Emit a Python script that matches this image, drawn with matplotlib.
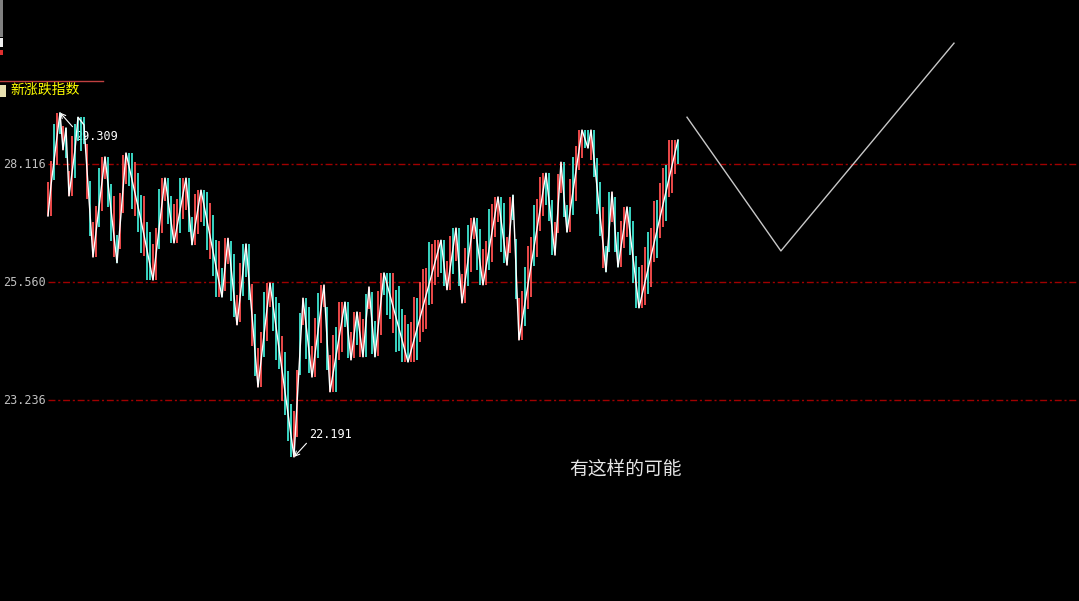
import matplotlib
matplotlib.use('Agg')
from matplotlib import pyplot as plt
from matplotlib.patches import Rectangle
import numpy as np

# Zigzag line of the index (bar number, value)
pivot_idx = [0, 1, 4, 5, 6, 7, 9, 10, 12, 13, 15, 19, 23, 26, 31, 35, 39, 42, 46, 48,
             51, 58, 60, 63, 66, 70, 74, 82, 85, 88, 92, 94, 99, 101, 103, 105, 107, 109, 112, 120,
             131, 133, 136, 138, 142, 145, 150, 153, 155, 157, 166, 169, 171, 173, 178, 180, 181, 186, 188, 190,
             193, 197, 210]
pivot_val = [26.96, 27.64, 29.309, 28.44, 28.95, 27.40, 28.44, 29.20, 29.02, 27.98,
             26.08, 28.28, 25.96, 28.37, 26.87, 25.60, 27.80, 26.38, 27.80, 26.34,
             27.53, 25.25, 26.48, 24.69, 26.36, 23.48, 25.54, 22.191, 25.23, 23.67,
             25.50, 23.39, 25.15, 24.00, 24.95, 24.06, 25.46, 24.06, 25.75, 23.96,
             26.44, 25.40, 26.70, 25.13, 26.92, 25.50, 27.38, 25.91, 27.42, 24.39,
             27.91, 26.12, 28.16, 26.61, 28.90, 28.48, 28.90, 25.77, 27.49, 25.87,
             27.16, 25.03, 28.67]

# Coloured sticks, one per bar (low end, high end)
stick_lo = [26.96, 26.96, 27.75, 28.10, 28.81, 28.44, 28.25, 27.40, 27.40, 27.79,
            28.65, 28.41, 28.57, 27.33, 26.53, 26.08, 26.08, 26.73, 27.08, 27.78,
            27.15, 26.42, 26.09, 25.96, 26.26, 27.02, 27.67, 27.62, 27.12, 26.97,
            26.62, 26.17, 26.10, 25.60, 25.60, 25.60, 25.60, 26.25, 26.60, 27.30,
            26.78, 26.38, 26.38, 26.38, 26.59, 26.90, 27.10, 26.62, 26.34, 26.34,
            26.58, 26.83, 26.75, 26.23, 26.05, 25.68, 25.25, 25.25, 25.25, 25.37,
            25.93, 25.18, 24.84, 24.69, 24.75, 25.27, 25.66, 25.19, 24.27, 23.70,
            23.48, 23.48, 24.06, 24.37, 25.04, 24.57, 24.00, 23.83, 23.21, 22.95,
            22.48, 22.19, 22.19, 22.55, 23.72, 24.68, 24.01, 23.74, 23.67, 23.67,
            24.04, 24.34, 25.05, 23.80, 23.39, 23.39, 23.39, 24.00, 24.15, 24.65,
            24.03, 24.00, 24.03, 24.30, 24.06, 24.06, 24.06, 25.01, 24.11, 24.06,
            24.07, 24.49, 25.30, 24.88, 24.80, 24.53, 24.15, 24.18, 23.96, 23.96,
            23.96, 23.96, 23.96, 23.99, 24.36, 24.54, 24.61, 25.09, 25.11, 25.49,
            25.66, 25.74, 25.47, 25.40, 25.40, 25.72, 26.00, 25.47, 25.13, 25.13,
            25.47, 25.77, 26.47, 25.80, 25.50, 25.50, 25.50, 25.81, 25.98, 26.51,
            26.83, 26.19, 25.95, 25.91, 26.17, 26.87, 25.21, 24.39, 24.39, 24.67,
            25.01, 25.25, 25.90, 26.09, 26.63, 26.97, 27.21, 26.86, 26.12, 26.12,
            26.59, 27.46, 26.94, 26.61, 26.61, 26.98, 27.28, 27.99, 28.25, 28.48,
            28.48, 28.20, 27.82, 27.00, 26.52, 25.85, 25.77, 26.18, 26.84, 26.18,
            25.87, 25.87, 26.28, 26.51, 26.13, 25.55, 25.03, 25.03, 25.03, 25.09,
            25.32, 25.45, 25.98, 26.06, 26.49, 26.72, 26.85, 27.38, 27.46, 27.89, 28.12]
stick_hi = [27.71, 28.19, 29.05, 29.31, 29.31, 28.99, 28.95, 27.95, 28.77, 29.04,
            29.20, 29.20, 29.20, 28.58, 27.73, 26.83, 27.18, 28.03, 28.28, 28.28,
            28.28, 27.67, 27.39, 26.56, 27.46, 28.32, 28.37, 28.37, 28.37, 28.17,
            27.92, 27.42, 27.40, 26.84, 26.62, 26.35, 26.70, 27.55, 27.80, 27.80,
            27.80, 27.40, 27.23, 27.34, 27.79, 27.80, 27.80, 27.80, 26.94, 27.44,
            27.53, 27.53, 27.53, 27.48, 27.25, 26.98, 26.45, 26.43, 25.85, 26.48,
            26.48, 26.43, 26.14, 25.29, 25.95, 26.36, 26.36, 26.36, 25.52, 24.90,
            24.23, 24.54, 25.36, 25.54, 25.54, 25.54, 25.25, 25.13, 24.46, 24.15,
            23.78, 23.16, 23.04, 23.80, 24.92, 25.23, 25.23, 25.04, 24.27, 24.83,
            25.34, 25.50, 25.50, 25.05, 24.09, 24.49, 24.64, 25.15, 25.15, 25.15,
            25.15, 24.55, 24.95, 24.95, 24.95, 24.81, 25.31, 25.46, 25.36, 24.76,
            25.37, 25.74, 25.75, 25.75, 25.75, 25.75, 25.40, 25.48, 25.01, 24.88,
            24.71, 24.74, 25.26, 25.24, 25.56, 25.84, 25.86, 26.39, 26.36, 26.44,
            26.44, 26.44, 26.44, 26.00, 26.53, 26.70, 26.70, 26.70, 25.73, 26.28,
            26.77, 26.92, 26.92, 26.92, 26.67, 26.25, 26.43, 27.11, 27.23, 27.38,
            27.38, 27.38, 27.25, 26.51, 27.37, 27.42, 26.46, 25.24, 25.38, 25.87,
            26.31, 26.50, 27.20, 27.34, 27.83, 27.91, 27.91, 27.91, 27.32, 26.82,
            27.89, 28.16, 28.16, 27.21, 27.77, 28.28, 28.53, 28.90, 28.90, 28.90,
            28.90, 28.90, 28.90, 28.25, 27.72, 27.15, 26.32, 27.48, 27.49, 27.38,
            26.62, 26.85, 27.16, 27.16, 27.16, 26.85, 26.11, 25.88, 25.91, 26.29,
            26.62, 26.70, 27.28, 27.31, 27.69, 28.02, 28.10, 28.67, 28.67, 28.67, 28.67]
stick_colors = ("rrcrcrcrrc" "cccrcrrcrr" "ccrcrrrccr" "ccrccrrcrr" "ccrrcrrccr"
                "rrccrccrcr" "rccrrcccrc" "rrcrrcccrc" "ccrrcrccrr" "crrcrrcrrc"
                "crrcrrcrcc" "rrcccrcccr" "crrcrrrcrr" "rccrrcrcrr" "crrccrrcrr"
                "rccrrccrrc" "rrcrrrcccr" "rrccrcrrrc" "crcccrccrc" "crrrccccrr"
                "crrcrrcrrrc")

# Hand drawn projection on the right
proj_idx = [213, 244.3, 302]
proj_val = [29.20, 26.21, 31.00]

grid_levels = [28.116, 25.560, 23.236]

palette = {'r': '#ff4f4f', 'c': '#3fe6d2'}

fig = plt.figure(figsize=(10.79, 6.01), dpi=100, facecolor='black')
ax = fig.add_axes([0, 0, 1, 1])
ax.set_facecolor('black')
ax.set_yscale('log')
ax.set_xlim(-16, 343.67)
ax.set_ylim(19.754, 32.10)
ax.set_axis_off()

# Dash-dot level lines and their labels
for lvl in grid_levels:
    ax.axhline(lvl, xmin=48 / 1079, color='#a00000', lw=1.0,
               dashes=(5, 2, 1.5, 2), zorder=1)
    ax.text(3 / 1079, lvl, f'{lvl:.3f}', transform=ax.get_yaxis_transform(),
            color='#c0c0c0', fontsize=8.5, family='DejaVu Sans Mono',
            ha='left', va='center')

# Sticks and zigzag
bars = np.arange(len(stick_lo))
ax.vlines(bars, stick_lo, stick_hi, colors=[palette[c] for c in stick_colors],
          lw=1.3, zorder=3)
ax.plot(pivot_idx, pivot_val, color='white', lw=1.0, zorder=4)
ax.plot(proj_idx, proj_val, color='#c8c8c8', lw=1.0, zorder=4)

# Max / min labels with arrows
top = int(np.argmax(pivot_val))
low = int(np.argmin(pivot_val))
ax.annotate(f'{pivot_val[top]:.3f}', xy=(pivot_idx[top], pivot_val[top]),
            xytext=(75, 601 - 136), textcoords='figure pixels',
            color='white', fontsize=8.5, family='DejaVu Sans Mono',
            ha='left', va='center', zorder=2,
            arrowprops=dict(arrowstyle='->', color='white', lw=0.8,
                            shrinkA=0, shrinkB=0, relpos=(0, 1)))
ax.annotate(f'{pivot_val[low]:.3f}', xy=(pivot_idx[low], pivot_val[low]),
            xytext=(309, 601 - 434), textcoords='figure pixels',
            color='white', fontsize=8.5, family='DejaVu Sans Mono',
            ha='left', va='center', zorder=2,
            arrowprops=dict(arrowstyle='->', color='white', lw=0.8,
                            shrinkA=0, shrinkB=0, relpos=(0, 0)))

# Indicator title and header decorations
fig.text(10 / 1079, 1 - 90 / 601, '新涨跌指数', color='#ffff00', fontsize=10,
         family=['Noto Sans CJK SC', 'DejaVu Sans'], ha='left', va='center')
fig.add_artist(Rectangle((0, 1 - 97 / 601), 6 / 1079, 12 / 601, transform=fig.transFigure,
                         facecolor='#e8e0b0', edgecolor='none'))
fig.add_artist(plt.Line2D([0, 103 / 1079], [1 - 81 / 601, 1 - 81 / 601],
                          transform=fig.transFigure, color='#c04040', lw=1))
fig.add_artist(Rectangle((0, 1 - 37 / 601), 3 / 1079, 37 / 601, transform=fig.transFigure,
                         facecolor='#808080', edgecolor='none'))
fig.add_artist(Rectangle((0, 1 - 47 / 601), 3 / 1079, 9 / 601, transform=fig.transFigure,
                         facecolor='#f0f0f0', edgecolor='none'))
fig.add_artist(Rectangle((0, 1 - 55 / 601), 3 / 1079, 5 / 601, transform=fig.transFigure,
                         facecolor='#e03030', edgecolor='none'))

# Note
fig.text(625 / 1079, 1 - 469 / 601, '有这样的可能', color='#e6e6e6', fontsize=13.5,
         family=['Noto Sans CJK SC', 'DejaVu Sans'], ha='center', va='center')

fig.savefig('out.png', dpi=100, facecolor='black')
